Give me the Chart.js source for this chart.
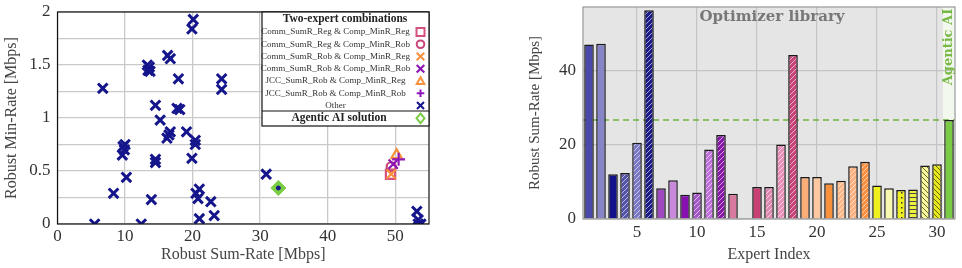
<!DOCTYPE html>
<html>
<head>
<meta charset="utf-8">
<script src="https://cdn.jsdelivr.net/npm/chart.js@4.4.1/dist/chart.umd.min.js"></script>
<style>
  body { margin: 0; background: #fff; width: 962px; height: 268px; overflow: hidden; position: relative; }
  #left { position: absolute; left: 0; top: 0; width: 440px; height: 268px; }
  #right { position: absolute; left: 500px; top: 0; width: 462px; height: 268px; }
</style>
</head>
<body>
<div id="left"><canvas id="scatter"></canvas></div>
<div id="right"><canvas id="bars"></canvas></div>
<script>
// scatter: "Other" expert pairs
const otherX = [20.1, 19.9, 16.3, 16.7, 13.3, 13.6, 13.4, 13.7, 6.7, 17.9, 24.3, 24.3, 14.5, 15.2, 17.7, 18.1,
  16.7, 16.5, 16.2, 19.1, 20.4, 20.4, 9.7, 9.9, 9.6, 10.0, 19.9, 14.5, 14.5, 10.2, 8.3, 13.9, 20.5, 21.0,
  20.8, 22.7, 23.2, 21.0, 5.5, 12.4, 30.9, 53.2, 53.4, 53.4, 53.8];
const otherY = [1.93, 1.84, 1.59, 1.56, 1.50, 1.48, 1.45, 1.44, 1.28, 1.37, 1.37, 1.27, 1.12, 0.98, 1.09, 1.08,
  0.87, 0.84, 0.81, 0.87, 0.79, 0.75, 0.73, 0.70, 0.65, 0.75, 0.62, 0.61, 0.58, 0.44, 0.29, 0.23, 0.29, 0.33,
  0.24, 0.21, 0.08, 0.05, 0.00, 0.00, 0.47, 0.12, 0.04, 0.00, 0.00];

// scatter: two-expert combinations
const comboNames = ['Comm_SumR_Reg & Comp_MinR_Reg', 'Comm_SumR_Reg & Comp_MinR_Rob',
  'Comm_SumR_Rob & Comp_MinR_Reg', 'Comm_SumR_Rob & Comp_MinR_Rob',
  'JCC_SumR_Rob & Comp_MinR_Reg', 'JCC_SumR_Rob & Comp_MinR_Rob'];
const comboX = [49.3, 49.4, 49.4, 49.7, 50.2, 50.5];
const comboY = [0.47, 0.54, 0.47, 0.565, 0.65, 0.61];

const agenticX = 32.7;
const agenticY = 0.34;

const xTicks = [0, 5, 10, 15, 20, 25, 30, 35, 40, 45, 50, 55];
const yTicks = [0, 0.25, 0.5, 0.75, 1, 1.25, 1.5, 1.75, 2];

// bars: expert library + agentic AI (last)
const expertIndex = ['1', '2', '3', '4', '5', '6', '7', '8', '9', '10', '11', '12', '13', '14', '15', '16',
  '17', '18', '19', '20', '21', '22', '23', '24', '25', '26', '27', '28', '29', '30', '31'];
const sumRate = [46.9, 47.1, 12.0, 12.4, 20.5, 56.1, 8.3, 10.4, 6.5, 7.1, 18.7, 22.6, 6.8, 0, 8.6, 8.6,
  20.0, 44.1, 11.3, 11.3, 9.6, 10.3, 14.2, 15.4, 9.0, 8.3, 7.8, 7.9, 14.4, 14.7, 26.6];
const barTicks = [0, 20, 40];

const serif = "'Liberation Serif', 'DejaVu Serif', serif";

// ---------- scatter ----------
const comboStyle = [
  { style: 'rect', color: '#d5507f', r: 6.5 },
  { style: 'circle', color: '#c8447a', r: 4.5 },
  { style: 'crossRot', color: '#f8903c', r: 6.5 },
  { style: 'crossRot', color: '#8a12b0', r: 6.5 },
  { style: 'triangle', color: '#f8903c', r: 6 },
  { style: 'cross', color: '#9018b8', r: 6.5 }
];
const navy = '#15158c';
const green = '#7acc44';

const scatterSets = [];
scatterSets.push({
  label: 'dot', data: [{ x: agenticX, y: agenticY }], pointStyle: 'circle', pointRadius: 2,
  backgroundColor: navy, borderColor: navy, order: 0
});
scatterSets.push({
  label: 'Agentic AI solution', data: [{ x: agenticX, y: agenticY }], pointStyle: 'rectRot', pointRadius: 7.5,
  backgroundColor: green, borderColor: green, borderWidth: 1, order: 1
});
comboNames.forEach((n, i) => {
  scatterSets.push({
    label: n, data: [{ x: comboX[i], y: comboY[i] }], pointStyle: comboStyle[i].style,
    pointRadius: comboStyle[i].r, backgroundColor: 'transparent', borderColor: comboStyle[i].color,
    borderWidth: 2.2, order: 2 + (5 - i)
  });
});
scatterSets.push({
  label: 'Other', data: otherX.map((x, i) => ({ x: x, y: otherY[i] })), pointStyle: 'crossRot',
  pointRadius: 6.8, borderColor: navy, backgroundColor: navy, borderWidth: 3, order: 20
});

function marker(ctx, style, x, y, r, color) {
  ctx.save();
  ctx.strokeStyle = color; ctx.fillStyle = color; ctx.lineWidth = 2;
  ctx.beginPath();
  if (style === 'rect') {
    ctx.rect(x - r, y - r, 2 * r, 2 * r); ctx.stroke();
  } else if (style === 'circle') {
    ctx.arc(x, y, r, 0, Math.PI * 2); ctx.stroke();
  } else if (style === 'crossRot') {
    ctx.moveTo(x - r, y - r); ctx.lineTo(x + r, y + r); ctx.moveTo(x + r, y - r); ctx.lineTo(x - r, y + r); ctx.stroke();
  } else if (style === 'cross') {
    ctx.moveTo(x - r, y); ctx.lineTo(x + r, y); ctx.moveTo(x, y - r); ctx.lineTo(x, y + r); ctx.stroke();
  } else if (style === 'triangle') {
    ctx.moveTo(x, y - r); ctx.lineTo(x + r, y + r * 0.8); ctx.lineTo(x - r, y + r * 0.8); ctx.closePath(); ctx.stroke();
  } else if (style === 'rectRot') {
    ctx.moveTo(x, y - r * 1.2); ctx.lineTo(x + r, y); ctx.lineTo(x, y + r * 1.2); ctx.lineTo(x - r, y); ctx.closePath(); ctx.stroke();
  }
  ctx.restore();
}

const comboLegend = {
  id: 'comboLegend',
  afterDraw(chart) {
    const ctx = chart.ctx, a = chart.chartArea;
    const w = 167, h = 114;
    const L = a.right - w, T = a.top;
    ctx.save();
    ctx.fillStyle = '#fff';
    ctx.fillRect(L, T, w, h);
    ctx.strokeStyle = '#111'; ctx.lineWidth = 1.2;
    ctx.strokeRect(L, T, w, h);
    ctx.beginPath(); ctx.moveTo(L, T + 99); ctx.lineTo(L + w, T + 99); ctx.stroke();
    ctx.fillStyle = '#222'; ctx.textAlign = 'center'; ctx.textBaseline = 'middle';
    ctx.font = 'bold 11.5px ' + serif;
    ctx.fillText('Two-expert combinations', L + 83, T + 7);
    ctx.font = '9px ' + serif;
    const names = comboNames.concat(['Other']);
    names.forEach((n, i) => {
      const y = T + 20 + i * 12.25;
      ctx.fillStyle = '#333';
      ctx.fillText(n, L + 73.5, y);
      if (i < comboNames.length) {
        const s = comboStyle[i];
        marker(ctx, s.style, a.right - 8.5, y, s.style === 'rect' ? 4 : 3.8, s.color);
      } else {
        marker(ctx, 'crossRot', a.right - 8.5, y, 3.5, navy);
      }
    });
    ctx.fillStyle = '#222';
    ctx.font = 'bold 11.5px ' + serif;
    ctx.fillText('Agentic AI solution', L + 77, T + 106.3);
    marker(ctx, 'rectRot', a.right - 8.5, T + 106.3, 4, green);
    ctx.restore();
  }
};

const frame = {
  id: 'frame',
  afterDatasetsDraw(chart, args, opts) {
    const ctx = chart.ctx, a = chart.chartArea;
    ctx.save();
    ctx.strokeStyle = opts.color; ctx.lineWidth = opts.width;
    ctx.strokeRect(a.left, a.top, a.right - a.left, a.bottom - a.top);
    ctx.restore();
  }
};

// keep the plot box where the layout padding puts it
function noEdgePad(s) {
  s.paddingTop = 0; s.paddingBottom = 0; s.paddingLeft = 0; s.paddingRight = 0;
}

new Chart(document.getElementById('scatter'), {
  type: 'scatter',
  data: { datasets: scatterSets },
  plugins: [frame, comboLegend],
  options: {
    responsive: true, maintainAspectRatio: false, animation: false,
    layout: { padding: { top: 12, right: 11, bottom: 2, left: 0 } },
    plugins: { legend: { display: false }, tooltip: { enabled: false }, frame: { color: '#111', width: 1.2 } },
    scales: {
      x: {
        type: 'linear', min: 0, max: 55,
        afterBuildTicks: s => { s.ticks = xTicks.map(v => ({ value: v })); },
        afterFit: s => { s.height = 42; noEdgePad(s); },
        grid: { color: c => (c.tick && c.tick.value % 10 === 0) ? '#c9c9c9' : 'transparent', drawTicks: false, lineWidth: 1.3 },
        border: { display: false },
        ticks: { color: '#333', padding: 2, font: { family: serif, size: 17 },
          callback: v => (v % 10 === 0 ? String(v) : '') },
        title: { display: true, text: 'Robust Sum-Rate [Mbps]', color: '#444', font: { family: serif, size: 16 }, padding: { top: 0, bottom: 2 } }
      },
      y: {
        type: 'linear', min: 0, max: 2,
        afterBuildTicks: s => { s.ticks = yTicks.map(v => ({ value: v })); },
        afterFit: s => { s.width = 57.5; noEdgePad(s); },
        grid: { color: '#c9c9c9', drawTicks: false, lineWidth: 1.3 },
        border: { display: false },
        ticks: { color: '#333', padding: 7, font: { family: serif, size: 17 },
          callback: v => (v % 0.5 === 0 ? String(v) : '') },
        title: { display: true, text: 'Robust Min-Rate [Mbps]', color: '#444', font: { family: serif, size: 16 }, padding: { top: 2, bottom: 0 } }
      }
    }
  }
});

// ---------- bars ----------
const barColors = ['#4a48a8', '#8884c8', '#12128a', '#5454aa', '#7c7ac6', '#1c1c88', '#a048c0', '#c888dc',
  '#8810b0', '#a458c8', '#c070dc', '#8818a8', '#d87aa0', '#cc4477', '#c84074', '#e088b0', '#e890b8',
  '#c84478', '#fcae78', '#fdc8a0', '#f8903c', '#fcb888', '#fcb080', '#f89040', '#f0f020', '#f8f8b0',
  '#f0f020', '#f0f040', '#f8f8a0', '#e8e820', '#7acc44'];
const barHatch = ['', '', '', 'fwd', 'fwd', 'fwd', '', '', '', 'fwd', 'fwd', 'fwd', '', '', '', 'fwd', 'fwd',
  'fwd', '', '', '', 'fwd', 'fwd', 'fwd', '', '', 'dots', 'hlines', 'back', 'back', ''];

function makeFill(base, kind) {
  if (!kind) return base;
  const c = document.createElement('canvas');
  const s = kind === 'hlines' ? 4 : 5;
  c.width = s; c.height = s;
  const g = c.getContext('2d');
  g.fillStyle = base; g.fillRect(0, 0, s, s);
  g.lineWidth = 1;
  if (kind === 'fwd') {
    g.strokeStyle = 'rgba(255,255,255,0.6)';
    g.beginPath();
    g.moveTo(0, s); g.lineTo(s, 0);
    g.moveTo(-1, 1); g.lineTo(1, -1);
    g.moveTo(s - 1, s + 1); g.lineTo(s + 1, s - 1);
    g.stroke();
  } else if (kind === 'back') {
    g.strokeStyle = 'rgba(60,60,0,0.75)';
    g.beginPath();
    g.moveTo(0, 0); g.lineTo(s, s);
    g.moveTo(-1, s - 1); g.lineTo(1, s + 1);
    g.moveTo(s - 1, -1); g.lineTo(s + 1, 1);
    g.stroke();
  } else if (kind === 'dots') {
    g.fillStyle = '#333';
    g.fillRect(1, 2, 1.5, 1.5);
  } else if (kind === 'hlines') {
    g.fillStyle = '#444';
    g.fillRect(0, 1, s, 1);
  }
  return g.createPattern(c, 'repeat');
}

const barPlot = {
  id: 'barPlot',
  beforeDraw(chart) {
    const ctx = chart.ctx, a = chart.chartArea, x = chart.scales.x;
    const split = (x.getPixelForValue(expertIndex.length - 2) + x.getPixelForValue(expertIndex.length - 1)) / 2;
    ctx.save();
    ctx.fillStyle = '#e5e5e5';
    ctx.fillRect(a.left, a.top, split - a.left, a.bottom - a.top);
    ctx.fillStyle = '#f2f8ee';
    ctx.fillRect(split, a.top, a.right - split, a.bottom - a.top);
    ctx.restore();
  },
  beforeDatasetsDraw(chart) {
    const ctx = chart.ctx, a = chart.chartArea, y = chart.scales.y;
    const yy = y.getPixelForValue(sumRate[sumRate.length - 1]);
    ctx.save();
    ctx.strokeStyle = '#6cb23c'; ctx.lineWidth = 1.5; ctx.setLineDash([6, 4]);
    ctx.beginPath(); ctx.moveTo(a.left, yy); ctx.lineTo(a.right, yy); ctx.stroke();
    ctx.restore();
  },
  afterDraw(chart) {
    const ctx = chart.ctx, a = chart.chartArea, x = chart.scales.x;
    const split = (x.getPixelForValue(expertIndex.length - 2) + x.getPixelForValue(expertIndex.length - 1)) / 2;
    ctx.save();
    ctx.strokeStyle = '#999'; ctx.lineWidth = 1.2;
    ctx.strokeRect(a.left, a.top, a.right - a.left, a.bottom - a.top);
    ctx.font = "bold 15px 'DejaVu Serif', serif";
    ctx.fillStyle = '#777'; ctx.textAlign = 'center'; ctx.textBaseline = 'middle';
    ctx.fillText('Optimizer library', (a.left + split) / 2 + 9, a.top + 10);
    ctx.translate((split + a.right) / 2, a.top + 40);
    ctx.rotate(-Math.PI / 2);
    ctx.fillStyle = '#78b846';
    ctx.font = "bold 13px 'DejaVu Serif', serif";
    ctx.fillText('Agentic AI', 0, 0);
    ctx.restore();
  }
};

new Chart(document.getElementById('bars'), {
  type: 'bar',
  data: {
    labels: expertIndex,
    datasets: [{
      data: sumRate,
      backgroundColor: barColors.map((c, i) => makeFill(c, barHatch[i])),
      borderColor: '#1a1a1a', borderWidth: 1.5,
      barPercentage: 0.8, categoryPercentage: 1
    }]
  },
  plugins: [barPlot],
  options: {
    responsive: true, maintainAspectRatio: false, animation: false,
    layout: { padding: { top: 7, right: 7, bottom: 2, left: 26 } },
    plugins: { legend: { display: false }, tooltip: { enabled: false } },
    scales: {
      x: {
        afterFit: s => { s.height = 47; noEdgePad(s); },
        grid: { offset: false, drawTicks: false, lineWidth: 1.2,
          color: c => ((c.index + 1) % 5 === 0 ? '#c4c4c4' : 'transparent') },
        border: { display: false },
        ticks: { autoSkip: false, maxRotation: 0, color: '#333', padding: 3, font: { family: serif, size: 17 },
          callback: (v, i) => ((i + 1) % 5 === 0 ? expertIndex[i] : '') },
        title: { display: true, text: 'Expert Index', color: '#444', font: { family: serif, size: 16 }, padding: { top: 0, bottom: 2 } }
      },
      y: {
        min: 0, max: 57,
        afterBuildTicks: s => { s.ticks = barTicks.map(v => ({ value: v })); },
        afterFit: s => { s.width = 57; noEdgePad(s); },
        grid: { color: '#c4c4c4', drawTicks: false, lineWidth: 1.2 },
        border: { display: false },
        ticks: { color: '#333', padding: 7, font: { family: serif, size: 17 } },
        title: { display: true, text: 'Robust Sum-Rate [Mbps]', color: '#444', font: { family: serif, size: 15 }, padding: { top: 0, bottom: 0 } }
      }
    }
  }
});
</script>
</body>
</html>
